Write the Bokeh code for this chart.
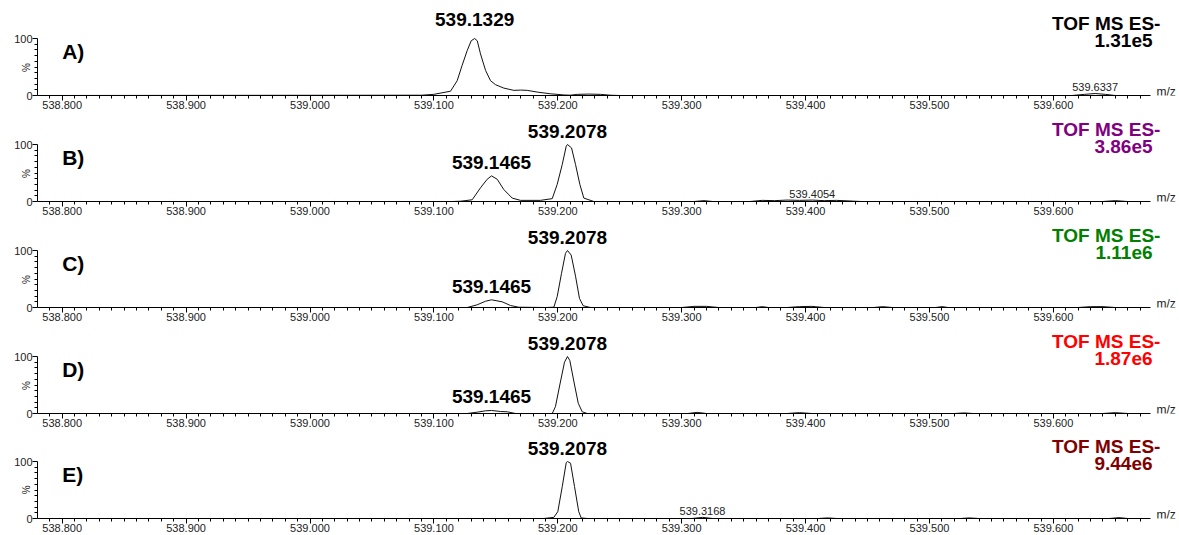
import math
from bokeh.plotting import figure
from bokeh.layouts import column
from bokeh.models import Range1d, FixedTicker, CustomJSTickFormatter
from bokeh.core.properties import value
from bokeh.embed import file_html
from bokeh.resources import INLINE

# ---------------- data ----------------
panel_letters = ["A)", "B)", "C)", "D)", "E)"]
scan_title = "TOF MS ES-"
scan_scales = ["1.31e5", "3.86e5", "1.11e6", "1.87e6", "9.44e6"]
title_colors = ["#000000", "#800080", "#008000", "#ff0000", "#800000"]

mz_A = [538.780, 539.090, 539.0999, 539.1134, 539.1188, 539.1228, 539.1269, 539.1301, 539.1329,
        539.1350, 539.1376, 539.1417, 539.1457, 539.1497, 539.1564, 539.1645, 539.1700, 539.1753,
        539.1834, 539.1941, 539.2048, 539.2100, 539.2157, 539.2250, 539.2345, 539.2425, 539.2500,
        539.6150, 539.6250, 539.6337, 539.6420, 539.6500, 539.678]
int_A = [0, 0.5, 2, 7.5, 26, 53, 79, 96, 100,
         96, 73, 44, 26, 19, 13, 9, 9.5, 9,
         6, 3, 1, 0.5, 2, 2.5, 2, 0.5, 0,
         0, 2, 3.5, 2, 0, 0]

mz_B = [538.780, 539.1150, 539.1215, 539.1309, 539.1376, 539.1430, 539.1465, 539.1511, 539.1564,
        539.1632, 539.1699, 539.1860, 539.1955, 539.1995, 539.2036, 539.2068, 539.2078, 539.2111,
        539.2143, 539.2178, 539.2210, 539.2291, 539.3100, 539.3180, 539.3250, 539.3550, 539.3650,
        539.3750, 539.3850, 539.3950, 539.4054, 539.4150, 539.4250, 539.4350, 539.4450, 539.6400,
        539.6500, 539.6600, 539.678]
int_B = [0, 0, 0.5, 3, 24, 39, 45, 39, 21,
         6, 2, 2, 5, 30, 65, 97, 100, 94,
         65, 30, 6, 0, 0, 1.5, 0, 0, 2,
         1.5, 2.5, 2, 2.5, 1.5, 2, 1, 0, 0,
         1.5, 0, 0]

mz_C = [538.780, 539.1200, 539.1269, 539.1349, 539.1417, 539.1465, 539.1551, 539.1618, 539.1685,
        539.1900, 539.1968, 539.1995, 539.2030, 539.2062, 539.2078, 539.2108, 539.2143, 539.2175,
        539.2205, 539.2264, 539.3000, 539.3100, 539.3200, 539.3300, 539.3600, 539.3650, 539.3700,
        539.3850, 539.3950, 539.4050, 539.4150, 539.4550, 539.4620, 539.4700, 539.5050, 539.5100,
        539.5150, 539.6200, 539.6300, 539.6400, 539.6500, 539.678]
int_C = [0, 0, 0, 4.7, 11, 13.5, 10, 3.5, 0.5,
         0, 0.5, 19, 60, 95, 100, 92, 55, 16,
         3, 0, 0, 2, 2, 0, 0, 1.5, 0,
         0, 1.5, 2, 0, 0, 1.5, 0, 0, 1.5,
         0, 0, 1.5, 1.5, 0, 0]

mz_D = [538.780, 539.1200, 539.1269, 539.1349, 539.1417, 539.1465, 539.1538, 539.1592, 539.1659,
        539.1900, 539.1955, 539.1981, 539.2016, 539.2054, 539.2078, 539.2097, 539.2129, 539.2165,
        539.2197, 539.2237, 539.3050, 539.3125, 539.3200, 539.3850, 539.3950, 539.4050, 539.5200,
        539.5280, 539.5350, 539.6400, 539.6500, 539.6600, 539.678]
int_D = [0, 0, 0, 2.3, 4.7, 5.3, 3.5, 3, 0,
         0, 0, 12, 50, 90, 100, 93, 57, 18,
         3, 0, 0, 2, 0, 0, 1.5, 0, 0,
         1, 0, 0, 1.5, 0, 0]

mz_E = [538.780, 539.1887, 539.1968, 539.2000, 539.2036, 539.2068, 539.2078, 539.2103, 539.2135,
        539.2169, 539.2189, 539.2237, 539.3080, 539.3168, 539.3250, 539.4100, 539.4180, 539.4250,
        539.5250, 539.5320, 539.5400, 539.6450, 539.6530, 539.6600, 539.678]
int_E = [0, 0, 2, 12, 56, 98, 100, 97, 56,
         12, 1, 0, 0, 2, 0, 0, 1, 0,
         0, 1, 0, 0, 1.5, 0, 0]

# labelled peaks: (m/z, height)
big_peaks = [
    [(539.1329, 100)],
    [(539.1465, 45), (539.2078, 100)],
    [(539.1465, 13.5), (539.2078, 100)],
    [(539.1465, 5.3), (539.2078, 100)],
    [(539.2078, 100)],
]
small_peaks = [
    [(539.6337, 3.5)],
    [(539.4054, 2.5)],
    [],
    [],
    [(539.3168, 2)],
]

spectra = [(mz_A, int_A), (mz_B, int_B), (mz_C, int_C), (mz_D, int_D), (mz_E, int_E)]

major_ticks = [538.8, 538.9, 539.0, 539.1, 539.2, 539.3, 539.4, 539.5, 539.6]

# ---------------- layout ----------------
FONT = "Liberation Sans"
W = 1179
BORDER_L = 37
PX_PER_100 = 57.0
X0 = 538.78006
X1 = 539.70178
AXIS_END = 539.6784
frame_heights = [95, 89, 89, 89, 88]
pct_pad = [14, 12, 12, 12, 11]      # non-breaking spaces used to push "%" down to mid-axis
big_label_gap = [19, 13.5, 13.5, 13.5, 13.5]
BORDER_B = 17
minor_ticks = [round(538.78 + 0.01 * i, 2) for i in range(90)]

figs = []
for i in range(5):
    mz, inten = spectra[i]
    fh = frame_heights[i]
    ymax = fh / PX_PER_100 * 100.0
    p = figure(width=W, height=fh + BORDER_B,
               x_range=Range1d(X0, X1), y_range=Range1d(0, ymax),
               output_backend="svg", toolbar_location=None,
               min_border_left=BORDER_L, min_border_right=0,
               min_border_top=0, min_border_bottom=BORDER_B)
    p.outline_line_color = None
    p.xgrid.visible = False
    p.ygrid.visible = False
    p.background_fill_color = "white"
    p.border_fill_color = "white"

    xa = p.xaxis[0]
    xa.ticker = FixedTicker(ticks=major_ticks, minor_ticks=minor_ticks)
    xa.formatter = CustomJSTickFormatter(code="return tick.toFixed(3);")
    xa.bounds = (X0, AXIS_END)
    xa.axis_line_color = "#000000"
    xa.major_tick_line_color = "#000000"
    xa.minor_tick_line_color = "#000000"
    xa.major_tick_out = 5
    xa.major_tick_in = 0
    xa.minor_tick_out = 3
    xa.minor_tick_in = 0
    xa.major_label_standoff = 0
    xa.major_label_text_font = FONT
    xa.major_label_text_font_size = "11px"
    xa.major_label_text_color = "#222222"

    ya = p.yaxis[0]
    ya.ticker = FixedTicker(ticks=[0, 100], minor_ticks=[10, 20, 30, 40, 50, 60, 70, 80, 90])
    ya.bounds = (0, 100)
    ya.axis_line_color = "#000000"
    ya.major_tick_line_color = "#000000"
    ya.minor_tick_line_color = "#000000"
    ya.major_tick_out = 5
    ya.major_tick_in = 0
    ya.minor_tick_out = 3
    ya.minor_tick_in = 0
    ya.major_label_standoff = 0
    ya.major_label_text_font = FONT
    ya.major_label_text_font_size = "11px"
    ya.major_label_text_color = "#222222"
    ya.axis_label = "%" + "\u00a0" * pct_pad[i]
    ya.axis_label_text_font = FONT
    ya.axis_label_text_font_size = "10px"
    ya.axis_label_text_font_style = "normal"
    ya.axis_label_text_color = "#222222"
    ya.axis_label_standoff = -21

    p.line(mz, inten, line_color="#111111", line_width=1)

    # panel letter
    p.text(x=[538.8], y=[77], text=[panel_letters[i]], text_font=value(FONT),
           text_font_style="bold", text_font_size="21px", text_align="left",
           text_baseline="middle", text_color="#000000")

    # labelled peaks
    if big_peaks[i]:
        bx = [a for a, b in big_peaks[i]]
        by = [b for a, b in big_peaks[i]]
        p.text(x=bx, y=by, text=["%.4f" % a for a in bx], text_font=value(FONT),
               text_font_style="bold", text_font_size="19px", text_align="center",
               text_baseline="middle", y_offset=-big_label_gap[i], text_color="#000000")
    if small_peaks[i]:
        sx = [a for a, b in small_peaks[i]]
        sy = [b for a, b in small_peaks[i]]
        p.text(x=sx, y=sy, text=["%.4f" % a for a in sx], text_font=value(FONT),
               text_font_size="11px", text_align="center",
               text_baseline="middle", y_offset=-6.5, text_color="#222222")

    # scan header
    p.text(x=[539.6864], y=[127], text=[scan_title], text_font=value(FONT),
           text_font_style="bold", text_font_size="19px", text_align="right",
           text_baseline="middle", text_color=title_colors[i])
    p.text(x=[539.6800], y=[97], text=[scan_scales[i]], text_font=value(FONT),
           text_font_style="bold", text_font_size="19px", text_align="right",
           text_baseline="middle", text_color=title_colors[i])

    # axis caption m/z at the end of the x axis
    p.text(x=[AXIS_END], y=[0], text=["m/z"], x_offset=6, y_offset=-4, text_font=value(FONT),
           text_font_size="12px", text_baseline="middle", text_align="left",
           text_color="#222222")
    figs.append(p)

layout = column(*figs, spacing=0)
open("out.html", "w").write(file_html(layout, INLINE))
